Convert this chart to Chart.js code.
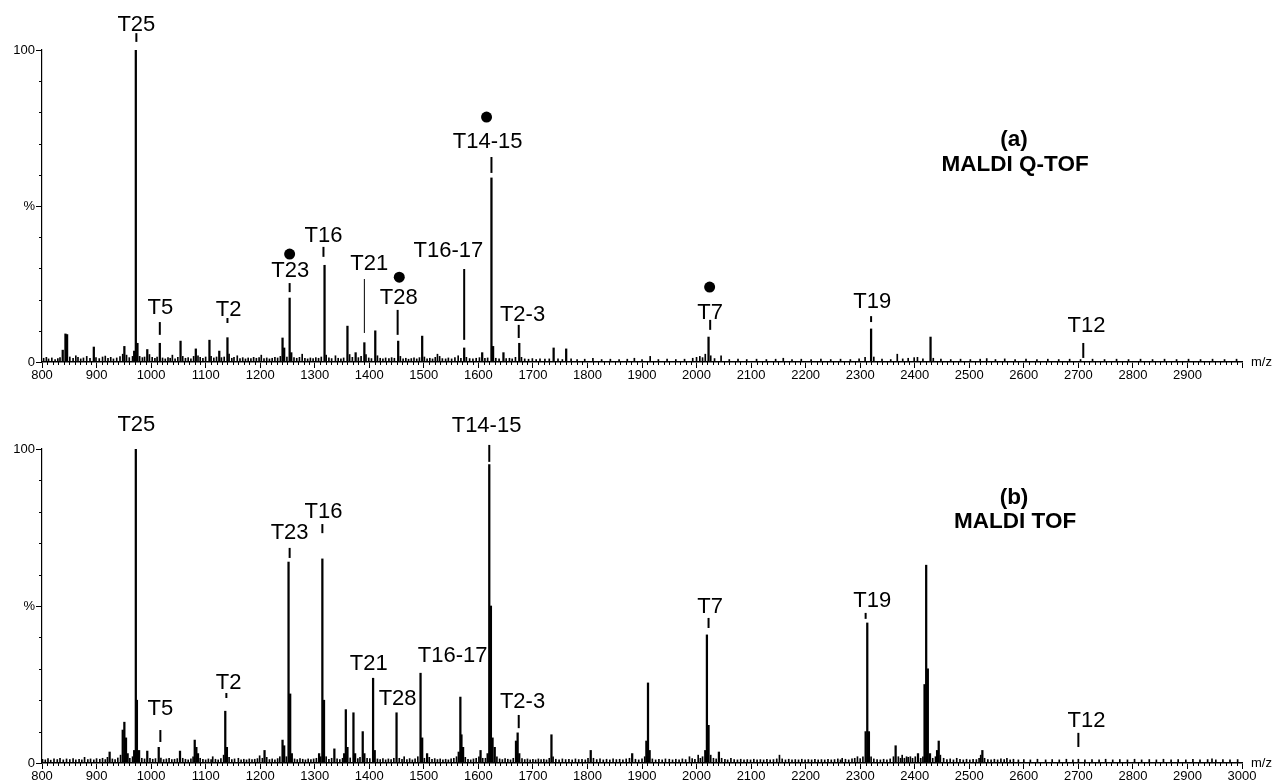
<!DOCTYPE html>
<html>
<head>
<meta charset="utf-8">
<script src="https://cdn.jsdelivr.net/npm/chart.js@4.4.1/dist/chart.umd.min.js"></script>
<style>
  body { margin: 0; background: #fff; }
  canvas { display: block; }
</style>
</head>
<body>
<canvas id="qtofChart" width="1276" height="392"></canvas>
<canvas id="tofChart" width="1276" height="392"></canvas>
<script>
// m/z range and tick labels
const mzMin = 800;
const mzMax = 3000;
const yTickValues = [0, 50, 100];
const yTickText = ['0', '%', '100'];

// (a) MALDI Q-TOF spectrum, peak m/z and relative intensity (%)
const qtofMz = [
  803, 808, 812, 818, 824, 829, 833, 838, 843, 846,
  851, 857, 862, 866, 871, 876, 882, 888, 895, 899,
  905, 911, 916, 921, 926, 931, 937, 943, 948, 951,
  955, 960, 966, 969, 972, 975, 979, 984, 988, 993,
  997, 1002, 1007, 1011, 1016, 1021, 1026, 1031, 1035, 1039,
  1044, 1049, 1054, 1058, 1063, 1068, 1073, 1078, 1082, 1086,
  1090, 1095, 1100, 1107, 1110, 1115, 1120, 1125, 1129, 1134,
  1140, 1143, 1148, 1152, 1158, 1163, 1168, 1173, 1178, 1183,
  1188, 1193, 1198, 1202, 1207, 1212, 1217, 1222, 1227, 1232,
  1237, 1241, 1244, 1249, 1254, 1257, 1262, 1267, 1272, 1277,
  1282, 1287, 1292, 1297, 1302, 1307, 1312, 1318, 1321, 1326,
  1331, 1338, 1343, 1348, 1353, 1360, 1364, 1369, 1375, 1380,
  1385, 1391, 1394, 1399, 1404, 1411, 1415, 1420, 1425, 1430,
  1436, 1441, 1446, 1453, 1457, 1462, 1467, 1472, 1477, 1482,
  1487, 1492, 1497, 1501, 1506, 1511, 1516, 1521, 1525, 1529,
  1534, 1540, 1545, 1551, 1557, 1563, 1568, 1574, 1578, 1584,
  1590, 1596, 1602, 1607, 1612, 1617, 1624, 1627, 1632, 1638,
  1646, 1651, 1657, 1662, 1668, 1675, 1679, 1685, 1692, 1699,
  1706, 1713, 1722, 1730, 1738, 1746, 1754, 1761, 1770, 1781,
  1795, 1810, 1826, 1842, 1858, 1873, 1886, 1900, 1915, 1930,
  1946, 1962, 1978, 1993, 2000, 2006, 2011, 2016, 2022, 2026,
  2033, 2045, 2060, 2076, 2092, 2110, 2128, 2145, 2159, 2175,
  2192, 2210, 2228, 2246, 2264, 2282, 2298, 2309, 2320, 2325,
  2340, 2356, 2368, 2378, 2388, 2399, 2405, 2415, 2429, 2434,
  2448, 2466, 2484, 2502, 2520, 2532, 2548, 2565, 2584, 2604,
  2624, 2644, 2664, 2684, 2704, 2726, 2748, 2770, 2792, 2814,
  2836, 2858, 2880, 2902, 2924, 2946, 2968, 2990
];
const qtofIntensity = [
  1.2, 1.5, 1.0, 1.3, 0.8, 1.1, 1.4, 3.8, 9.0, 8.8,
  1.6, 1.2, 2.0, 1.5, 1.0, 1.3, 1.8, 1.2, 4.8, 1.4,
  1.1, 1.6, 1.9, 1.2, 1.5, 1.0, 1.3, 1.7, 2.5, 5.0,
  2.2, 1.4, 1.8, 3.5, 100, 6.0, 1.8, 1.4, 1.6, 4.0,
  2.4, 1.5, 1.2, 1.6, 6.0, 1.3, 1.0, 1.4, 1.2, 2.2,
  1.0, 1.5, 6.7, 1.8, 1.2, 1.4, 1.0, 1.8, 4.2, 2.0,
  1.5, 1.2, 1.6, 7.0, 1.8, 1.3, 1.6, 3.5, 1.4, 1.6,
  7.8, 2.5, 1.2, 1.5, 2.0, 1.1, 1.4, 1.0, 1.3, 1.1,
  1.5, 1.2, 1.4, 2.2, 1.1, 1.3, 1.0, 1.2, 1.5, 1.3,
  1.8, 7.7, 4.5, 1.6, 20.5, 3.0, 1.4, 1.2, 1.5, 2.5,
  1.2, 1.0, 1.3, 1.1, 1.4, 1.2, 1.6, 31, 2.2, 1.3,
  1.1, 2.0, 1.2, 1.0, 1.3, 11.5, 2.4, 1.5, 3.0, 1.4,
  1.8, 6.2, 2.4, 1.3, 1.1, 10, 2.0, 1.2, 1.0, 1.3,
  1.1, 1.4, 1.2, 6.7, 1.8, 1.0, 1.2, 0.9, 1.1, 1.3,
  1.0, 1.4, 8.3, 1.6, 1.0, 1.2, 1.0, 1.5, 2.5, 1.8,
  1.1, 1.0, 1.3, 1.0, 1.4, 2.0, 1.2, 4.5, 1.5, 1.1,
  1.0, 1.2, 1.4, 3.0, 1.2, 1.3, 59, 5.0, 1.2, 1.0,
  3.0, 1.1, 1.2, 1.0, 1.5, 6.0, 1.5, 1.0, 0.9, 1.1,
  0.8, 1.0, 0.9, 1.0, 4.5, 1.0, 0.8, 4.2, 1.0, 0.8,
  0.9, 1.2, 0.8, 0.9, 0.8, 0.9, 1.2, 0.8, 1.8, 0.8,
  0.9, 0.8, 0.9, 1.2, 1.5, 1.8, 1.4, 2.5, 8.0, 2.0,
  1.1, 2.0, 0.8, 0.9, 0.8, 0.9, 0.8, 0.9, 1.2, 0.8,
  0.9, 0.8, 0.9, 0.8, 0.9, 0.8, 1.0, 1.5, 10.6, 1.6,
  0.9, 0.8, 2.5, 1.0, 1.2, 1.4, 1.5, 1.0, 8.0, 1.2,
  0.9, 0.8, 0.9, 0.8, 0.9, 1.1, 0.8, 1.0, 0.8, 0.9,
  0.8, 0.9, 0.8, 0.9, 0.8, 0.9, 0.8, 0.9, 0.8, 0.9,
  0.8, 0.9, 0.8, 0.9, 0.8, 0.9, 0.8, 0.9
];

// (b) MALDI TOF spectrum
const tofMz = [
  801, 806, 811, 816, 822, 828, 833, 839, 845, 851,
  857, 862, 868, 873, 878, 884, 889, 895, 900, 906,
  911, 916, 920, 924, 929, 934, 939, 944, 948, 951,
  954, 957, 961, 966, 969, 972, 974, 978, 983, 988,
  993, 998, 1003, 1008, 1014, 1018, 1023, 1028, 1033, 1038,
  1043, 1048, 1053, 1058, 1063, 1068, 1073, 1077, 1080, 1083,
  1086, 1090, 1095, 1100, 1105, 1110, 1113, 1118, 1123, 1128,
  1133, 1136, 1139, 1143, 1148, 1153, 1160, 1165, 1170, 1175,
  1180, 1185, 1190, 1195, 1199, 1204, 1208, 1212, 1217, 1222,
  1227, 1232, 1236, 1241, 1244, 1248, 1252, 1255, 1258, 1263,
  1268, 1273, 1278, 1283, 1288, 1293, 1298, 1303, 1308, 1311,
  1314, 1317, 1321, 1326, 1331, 1336, 1341, 1346, 1351, 1354,
  1357, 1360, 1365, 1371, 1374, 1379, 1383, 1388, 1391, 1396,
  1401, 1407, 1410, 1415, 1420, 1425, 1430, 1435, 1440, 1445,
  1450, 1455, 1460, 1464, 1469, 1474, 1479, 1484, 1489, 1494,
  1497, 1501, 1506, 1510, 1515, 1520, 1525, 1530, 1535, 1540,
  1545, 1550, 1555, 1560, 1564, 1567, 1569, 1572, 1576, 1581,
  1586, 1591, 1596, 1601, 1604, 1608, 1613, 1617, 1620, 1623,
  1626, 1630, 1634, 1639, 1644, 1649, 1654, 1659, 1664, 1669,
  1672, 1675, 1680, 1685, 1690, 1695, 1700, 1705, 1710, 1715,
  1720, 1725, 1730, 1734, 1737, 1742, 1748, 1754, 1760, 1766,
  1772, 1778, 1784, 1790, 1796, 1801, 1806, 1811, 1817, 1823,
  1829, 1835, 1841, 1847, 1853, 1859, 1865, 1871, 1877, 1882,
  1888, 1894, 1900, 1905, 1908, 1911, 1914, 1919, 1925, 1931,
  1937, 1943, 1950, 1956, 1962, 1968, 1974, 1980, 1987, 1992,
  1997, 2003, 2007, 2011, 2016, 2019, 2022, 2026, 2031, 2036,
  2041, 2046, 2052, 2057, 2063, 2069, 2075, 2081, 2087, 2093,
  2099, 2105, 2111, 2117, 2123, 2129, 2135, 2141, 2147, 2152,
  2157, 2163, 2169, 2175, 2181, 2187, 2193, 2199, 2205, 2211,
  2217, 2223, 2229, 2235, 2241, 2247, 2253, 2259, 2264, 2267,
  2273, 2279, 2285, 2290, 2295, 2300, 2305, 2310, 2313, 2316,
  2320, 2325, 2331, 2337, 2343, 2349, 2355, 2361, 2365, 2370,
  2374, 2377, 2381, 2385, 2388, 2392, 2396, 2401, 2406, 2411,
  2415, 2418, 2421, 2424, 2428, 2433, 2438, 2441, 2444, 2447,
  2453, 2459, 2465, 2471, 2477, 2483, 2489, 2495, 2501, 2507,
  2513, 2518, 2521, 2524, 2528, 2534, 2540, 2546, 2552, 2558,
  2564, 2569, 2575, 2581, 2590, 2600, 2612, 2625, 2640, 2652,
  2665, 2678, 2690, 2700, 2712, 2725, 2738, 2750, 2763, 2776,
  2790, 2803, 2816, 2830, 2843, 2856, 2870, 2883, 2897, 2910,
  2923, 2937, 2945, 2952, 2965, 2978, 2992
];
const tofIntensity = [
  1.2, 1.0, 1.4, 0.9, 1.3, 1.1, 1.5, 1.0, 1.3, 1.1,
  1.4, 1.0, 1.2, 1.0, 1.8, 1.1, 1.3, 1.0, 1.4, 1.2,
  1.5, 1.1, 1.8, 3.5, 1.3, 1.1, 1.6, 2.5, 10.5, 13,
  8, 3.0, 1.5, 2.0, 4.0, 100, 20, 4.0, 1.5, 1.3,
  3.8, 1.5, 1.2, 1.4, 5.0, 1.6, 1.1, 1.3, 1.5, 1.1,
  1.2, 1.4, 3.8, 1.5, 1.2, 1.0, 1.3, 2.0, 7.3, 5.0,
  3.0, 1.5, 1.2, 1.0, 1.3, 1.1, 2.0, 1.2, 1.0, 1.4,
  2.5, 16.5, 5.0, 1.8, 1.1, 1.3, 1.5, 1.0, 1.2, 1.0,
  1.3, 1.1, 1.2, 1.4, 2.3, 1.5, 4.0, 1.8, 1.1, 1.3,
  1.0, 1.4, 2.0, 7.3, 5.5, 2.0, 64, 22, 3.0, 1.3,
  1.1, 1.4, 1.2, 1.0, 1.3, 1.1, 1.3, 1.5, 3.0, 2.0,
  65, 20, 2.0, 1.2, 1.5, 4.5, 1.3, 1.1, 1.5, 3.0,
  17, 5.0, 1.6, 16, 3.0, 1.4, 1.8, 10, 3.0, 1.5,
  1.4, 27, 4.0, 1.3, 1.1, 1.4, 1.0, 1.3, 1.1, 1.5,
  16, 1.5, 1.2, 2.0, 1.1, 1.4, 1.0, 1.3, 2.0, 28.6,
  8.0, 1.5, 3.0, 1.8, 1.2, 1.4, 1.1, 1.3, 1.0, 1.2,
  1.0, 1.3, 1.5, 2.0, 3.5, 21, 9, 5, 1.8, 1.2,
  1.0, 1.3, 1.5, 2.0, 4.0, 1.5, 1.5, 3.0, 95, 50,
  8, 5, 2.0, 1.3, 1.1, 1.4, 1.2, 1.0, 1.5, 7,
  9.6, 3.0, 1.4, 1.1, 1.3, 1.0, 1.2, 1.0, 1.3, 1.1,
  1.2, 1.0, 1.5, 9, 2.0, 1.2, 1.0, 1.3, 1.1, 1.2,
  1.0, 1.3, 1.1, 1.2, 1.0, 1.5, 4, 1.5, 1.1, 1.3,
  1.0, 1.2, 1.0, 1.3, 1.1, 1.2, 1.0, 1.3, 1.5, 3,
  1.2, 1.0, 1.3, 2.0, 7, 25.5, 4, 1.3, 1.0, 1.2,
  1.0, 1.3, 1.2, 1.0, 1.2, 1.0, 1.3, 1.1, 2.0, 1.4,
  1.2, 2.5, 1.5, 2.0, 4.0, 40.8, 12, 2.5, 1.5, 1.3,
  3.5, 1.5, 1.2, 1.0, 1.5, 1.1, 1.0, 1.2, 1.0, 1.1,
  1.0, 1.2, 1.0, 1.1, 1.0, 1.2, 1.0, 1.1, 1.3, 2.5,
  1.3, 1.0, 1.2, 1.0, 1.1, 1.0, 1.2, 1.0, 1.1, 1.0,
  1.2, 1.0, 1.1, 1.0, 1.2, 1.0, 1.1, 1.3, 1.0, 1.5,
  1.2, 1.0, 1.3, 1.5, 2.0, 1.4, 2.0, 10, 44.6, 10,
  2.0, 1.3, 1.1, 1.0, 1.2, 1.0, 1.3, 2.0, 5.5, 2.0,
  1.5, 2.5, 1.5, 2.0, 1.8, 2.0, 1.5, 2.0, 3.0, 1.5,
  2.0, 25, 63, 30, 3.0, 1.5, 2.0, 4.0, 7, 2.5,
  1.5, 1.1, 1.3, 1.0, 1.5, 1.2, 1.0, 1.2, 1.0, 1.2,
  1.1, 1.5, 2.5, 4, 1.5, 1.1, 1.0, 1.2, 1.0, 1.3,
  1.1, 1.5, 1.0, 1.2, 1.0, 1.1, 1.0, 1.2, 1.0, 1.1,
  1.0, 1.2, 1.0, 1.2, 1.0, 1.1, 1.0, 1.2, 1.0, 1.1,
  1.0, 1.2, 1.0, 1.1, 1.0, 1.2, 1.0, 1.1, 1.0, 1.2,
  1.0, 1.1, 1.3, 1.0, 1.1, 1.0, 1.1
];

// peak annotations: label, where it sits (m/z, %), marker line, filled dot
const qtofTags = [
  { text: 'T25', mz: 973, at: 108, line: [973, 105.4, 102.6] },
  { text: 'T5', mz: 1017, at: 17.3, line: [1016, 12.8, 8.7] },
  { text: 'T2', mz: 1142, at: 16.7, line: [1140, 14.1, 12.5] },
  { text: 'T23', mz: 1255, at: 29.2, line: [1254, 25.3, 22.4], dot: [1254, 34.6] },
  { text: 'T16', mz: 1316, at: 40.4, line: [1316, 36.9, 33.7] },
  { text: 'T21', mz: 1400, at: 31.4, line: [1391, 26.6, 9.3], thin: true },
  { text: 'T28', mz: 1454, at: 20.5, line: [1452, 16.7, 8.7], dot: [1455, 27.2] },
  { text: 'T16-17', mz: 1545, at: 35.6, line: [1574, 29.8, 7.1] },
  { text: 'T14-15', mz: 1617, at: 70.5, line: [1624, 65.7, 60.6], dot: [1615, 78.5] },
  { text: 'T2-3', mz: 1681, at: 15.1, line: [1674, 11.9, 7.7] },
  { text: 'T7', mz: 2025, at: 15.7, line: [2025, 13.5, 10.3], dot: [2024, 24] },
  { text: 'T19', mz: 2322, at: 19.2, line: [2320, 14.7, 12.8] },
  { text: 'T12', mz: 2715, at: 11.5, line: [2709, 6.1, 1.3] }
];
const tofTags = [
  { text: 'T25', mz: 973, at: 107.6 },
  { text: 'T5', mz: 1017, at: 17.2, line: [1017, 10.5, 6.7] },
  { text: 'T2', mz: 1142, at: 25.5, line: [1138, 22.3, 20.7] },
  { text: 'T23', mz: 1254, at: 73.2, line: [1254, 68.5, 65.3] },
  { text: 'T16', mz: 1316, at: 79.9, line: [1314, 76.1, 73.2] },
  { text: 'T21', mz: 1399, at: 31.5 },
  { text: 'T28', mz: 1452, at: 20.4 },
  { text: 'T16-17', mz: 1553, at: 34.1 },
  { text: 'T14-15', mz: 1615, at: 107.3, line: [1620, 101.3, 95.9] },
  { text: 'T2-3', mz: 1681, at: 19.4, line: [1674, 15.3, 11.1] },
  { text: 'T7', mz: 2025, at: 49.7, line: [2022, 46.2, 43] },
  { text: 'T19', mz: 2322, at: 51.6, line: [2310, 47.8, 45.9] },
  { text: 'T12', mz: 2715, at: 13.4, line: [2700, 9.6, 5.1] }
];

const fontFamily = '"Liberation Sans", Arial, sans-serif';

function tagPlugin(tags, titleLines) {
  return {
    id: 'tags',
    afterDraw(chart) {
      const ctx = chart.ctx;
      const x = chart.scales.x;
      const y = chart.scales.y;
      ctx.save();
      ctx.fillStyle = '#000';
      ctx.strokeStyle = '#000';

      // minor ticks every 10 m/z and every 10 %
      ctx.lineWidth = 1;
      ctx.beginPath();
      for (let v = mzMin + 10; v < mzMax; v += 10) {
        if (v % 100 === 0) continue;
        const px = Math.round(x.getPixelForValue(v)) + 0.5;
        ctx.moveTo(px, y.bottom);
        ctx.lineTo(px, y.bottom + 3);
      }
      for (let v = 10; v < 100; v += 10) {
        if (v === 50) continue;
        const py = Math.round(y.getPixelForValue(v)) + 0.5;
        ctx.moveTo(x.left - 3, py);
        ctx.lineTo(x.left, py);
      }
      ctx.stroke();

      ctx.font = '22px ' + fontFamily;
      ctx.textAlign = 'center';
      ctx.textBaseline = 'middle';
      tags.forEach(tag => {
        ctx.fillText(tag.text, x.getPixelForValue(tag.mz), y.getPixelForValue(tag.at));
        if (tag.line) {
          const lx = x.getPixelForValue(tag.line[0]);
          ctx.lineWidth = tag.thin ? 1 : 2;
          ctx.beginPath();
          ctx.moveTo(lx, y.getPixelForValue(tag.line[1]));
          ctx.lineTo(lx, y.getPixelForValue(tag.line[2]));
          ctx.stroke();
        }
        if (tag.dot) {
          ctx.beginPath();
          ctx.arc(x.getPixelForValue(tag.dot[0]), y.getPixelForValue(tag.dot[1]), 5.5, 0, Math.PI * 2);
          ctx.fill();
        }
      });

      ctx.font = 'bold 22.5px ' + fontFamily;
      titleLines.forEach(line => {
        ctx.fillText(line.text, x.getPixelForValue(line.mz), y.getPixelForValue(line.at));
      });

      ctx.font = '13px ' + fontFamily;
      ctx.textAlign = 'left';
      ctx.fillText('m/z', x.right + 9, y.bottom);
      ctx.restore();
    }
  };
}

function drawSpectrum(canvasId, mz, intensity, tags, titleLines, top, axisHeight, showLast) {
  const points = mz.map((m, i) => ({ x: m, y: intensity[i] }));
  // real peaks a bit wider than the baseline noise
  const peaks = points.filter(p => p.y >= 3);
  const noise = points.filter(p => p.y < 3);
  new Chart(document.getElementById(canvasId), {
    type: 'bar',
    data: {
      datasets: [
        { data: noise, backgroundColor: '#000', borderWidth: 0, barThickness: 1, grouped: false },
        { data: peaks, backgroundColor: '#000', borderWidth: 0, barThickness: 1.6, grouped: false }
      ]
    },
    options: {
      responsive: false,
      animation: false,
      devicePixelRatio: 1,
      layout: { padding: { top: top, right: 34, left: 0, bottom: 0 } },
      plugins: { legend: { display: false }, tooltip: { enabled: false } },
      scales: {
        x: {
          type: 'linear',
          min: mzMin,
          max: mzMax,
          offset: false,
          border: { color: '#000', width: 1.6 },
          grid: { drawOnChartArea: false, offset: false, tickLength: 6, color: '#000' },
          ticks: {
            stepSize: 100,
            autoSkip: false,
            maxRotation: 0,
            padding: 0,
            color: '#000',
            font: { family: fontFamily, size: 13 },
            callback: v => (v === mzMax && !showLast) ? '' : String(v)
          },
          afterFit: s => { s.height = axisHeight; }
        },
        y: {
          min: 0,
          max: 100,
          border: { color: '#000', width: 1.2 },
          grid: { drawOnChartArea: false, tickLength: 6, color: '#000' },
          ticks: {
            stepSize: 50,
            padding: 1,
            color: '#000',
            font: { family: fontFamily, size: 13 },
            callback: v => yTickText[yTickValues.indexOf(v)]
          },
          afterFit: s => { s.width = 42; }
        }
      }
    },
    plugins: [tagPlugin(tags, titleLines)]
  });
}

drawSpectrum('qtofChart', qtofMz, qtofIntensity, qtofTags,
  [{ text: '(a)', mz: 2582, at: 71.2 }, { text: 'MALDI Q-TOF', mz: 2584, at: 63.1 }],
  50, 30, false);
drawSpectrum('tofChart', tofMz, tofIntensity, tofTags,
  [{ text: '(b)', mz: 2582, at: 84.4 }, { text: 'MALDI TOF', mz: 2584, at: 76.8 }],
  57, 21, true);
</script>
</body>
</html>
